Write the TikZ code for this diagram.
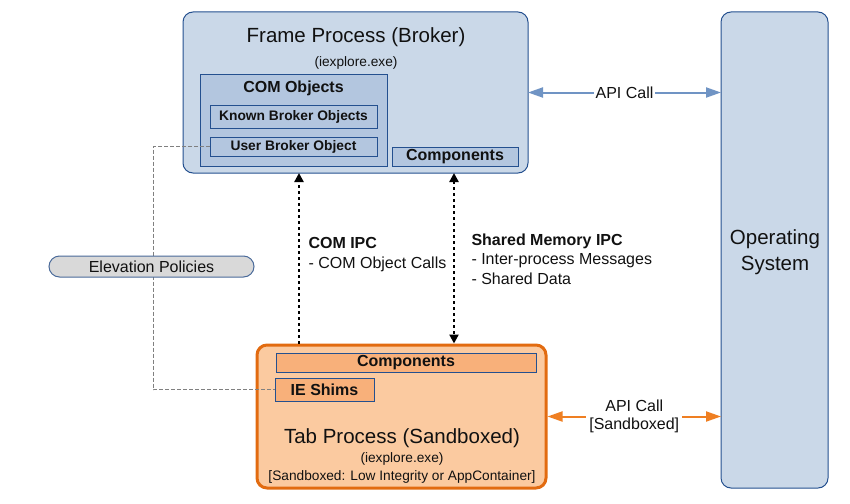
\documentclass[tikz,border=0pt]{standalone}
\usepackage{fontspec}
\setmainfont{Liberation Sans}
\usetikzlibrary{arrows.meta,calc}
\definecolor{frameFill}{HTML}{CAD8E8}
\definecolor{darkBlue}{HTML}{24508F}
\definecolor{comFill}{HTML}{B3C6DF}
\definecolor{tabFill}{HTML}{FBCAA0}
\definecolor{tabBorder}{HTML}{E26B10}
\definecolor{tabComp}{HTML}{F8B07A}
\definecolor{apiBlue}{HTML}{7094C4}
\definecolor{apiOrange}{HTML}{EF7F22}
\definecolor{pillFill}{HTML}{D9D9D9}
\definecolor{pillBorder}{HTML}{4A6A9A}
\definecolor{txt}{HTML}{111111}
\begin{document}
\begin{tikzpicture}[x=1pt,y=-1pt,
  every node/.style={text=txt},
  box/.style={draw=darkBlue, line width=1pt, inner sep=0pt, outer sep=0pt},
  bigtxt/.style={font=\fontsize{20.5}{25.5}\selectfont},
  midtxt/.style={font=\fontsize{16}{19.5}\selectfont},
  midbold/.style={font=\fontsize{16}{19.5}\selectfont\bfseries},
  smalltxt/.style={font=\fontsize{13.7}{16.4}\selectfont},
  smallbold/.style={font=\fontsize{13.8}{16.5}\selectfont\bfseries},
  apiarrow/.style={line width=2pt, {Triangle[length=15pt,width=10pt]}-{Triangle[length=15pt,width=10pt]}},
  ipc/.style={line width=2.6pt, dash pattern=on 3pt off 3pt}
]
\useasboundingbox (0,0) rectangle (850,503);

% Frame process
\node[box, fill=frameFill, rounded corners=10pt, minimum width=345pt, minimum height=161pt] (frame) at (355.5,92.5) {};
\node[bigtxt] (ftitle) at (356,37) {Frame Process (Broker)};
\node[smalltxt] (fexe) at (356,63) {(iexplore.exe)};
\node[box, fill=comFill, minimum width=187pt, minimum height=92pt] (com) at (293.5,120) {};
\node[midbold] (comlbl) at (293.5,88) {COM Objects};
\node[box, fill=comFill, smallbold, minimum width=167pt, minimum height=23pt] (known) at (293.5,116.5) {Known Broker Objects};
\node[box, fill=comFill, smallbold, minimum width=167pt, minimum height=19pt] (user) at (293.5,146.5) {User Broker Object};
\node[box, fill=comFill, midbold, minimum width=126pt, minimum height=19pt] (fcomp) at (455,156.5) {Components};

% Operating system
\node[box, fill=frameFill, rounded corners=10pt, minimum width=107pt, minimum height=476pt] (os) at (774.5,250) {};
\node[bigtxt, align=center] (oslbl) at (775,252) {Operating\\System};

% Tab process
\node[draw=tabBorder, line width=3pt, fill=tabFill, rounded corners=10pt, inner sep=0pt, minimum width=289pt, minimum height=143pt] (tab) at (401.5,416.5) {};
\node[box, fill=tabComp, midbold, minimum width=260pt, minimum height=19pt] (tcomp) at (406,362.5) {Components};
\node[box, fill=tabComp, midbold, minimum width=99pt, minimum height=23pt] (shims) at (324.5,389.5) {IE Shims};
\node[bigtxt] (ttitle) at (402,438) {Tab Process (Sandboxed)};
\node[smalltxt] (texe) at (402,459) {(iexplore.exe)};
\node[smalltxt] (tsand) at (402,477) {[Sandboxed: Low Integrity or AppContainer]};

% Elevation policies dashed link
\draw[draw=gray, line width=0.8pt, dash pattern=on 4pt off 2pt] (user.west) -- ++(-57,0) coordinate (elbow) |- (shims.west);
\node[draw=pillBorder, line width=1pt, fill=pillFill, rounded corners=10.5pt, midtxt, minimum width=205pt, minimum height=21pt, inner sep=0pt] (elev) at (151.5,266.5) {Elevation Policies};

% API calls
\draw[apiarrow, draw=apiBlue, fill=apiBlue] (frame.east) -- node[midtxt, fill=white, inner sep=2pt] (api1) {API Call} (frame.east -| os.west);
\draw[apiarrow, draw=apiOrange, fill=apiOrange] (tab.east) -- node[midtxt, fill=white, inner sep=3pt, align=center] (api2) {API Call\\[-1pt][Sandboxed]} (tab.east -| os.west);

% IPC arrows
\coordinate (comB) at ([xshift=-102.5pt]tab.north);
\coordinate (comT) at (comB |- frame.south);
\draw[ipc, -{Triangle[length=9pt,width=9pt]}] (comB) -- (comT);
\coordinate (shmT) at ([xshift=-1pt]fcomp.south |- frame.south);
\coordinate (shmB) at (shmT |- tab.north);
\draw[ipc, {Triangle[length=9pt,width=9pt]}-{Triangle[length=9pt,width=9pt]}] (shmT) -- (shmB);

\node[midtxt, align=left, anchor=west] (comipc) at (305,254.5) {\textbf{COM IPC}\\- COM Object Calls};
\node[midtxt, align=left, anchor=west] (shmipc) at (468,259) {\textbf{Shared Memory IPC}\\- Inter-process Messages\\- Shared Data};
\end{tikzpicture}
\end{document}
